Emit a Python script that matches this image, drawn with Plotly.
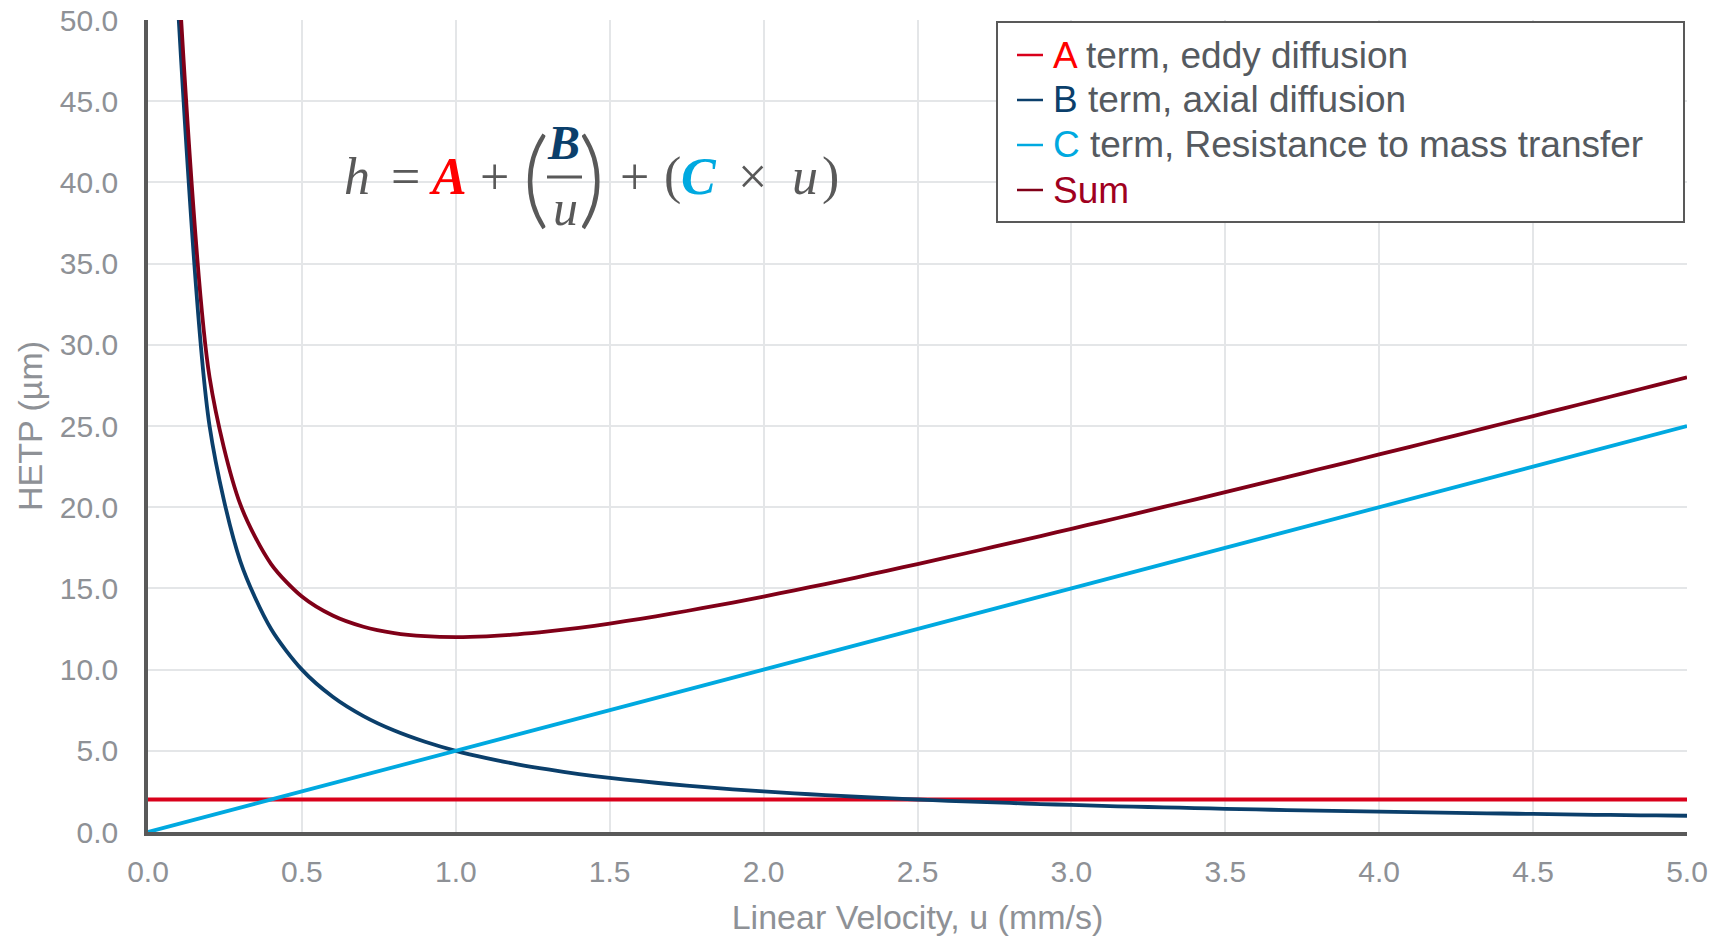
import plotly.graph_objects as go

# linear velocity u (mm/s) and read-off HETP values (µm)
u_curve = [0.1, 0.2, 0.3, 0.4, 0.5, 0.6, 0.7, 0.8, 0.9, 1.0,
           1.1, 1.2, 1.3, 1.4, 1.5, 1.6, 1.7, 1.8, 1.9, 2.0,
           2.1, 2.2, 2.3, 2.4, 2.5, 2.6, 2.7, 2.8, 2.9, 3.0,
           3.1, 3.2, 3.3, 3.4, 3.5, 3.6, 3.7, 3.8, 3.9, 4.0,
           4.1, 4.2, 4.3, 4.4, 4.5, 4.6, 4.7, 4.8, 4.9, 5.0]
b_term = [50.00, 25.00, 16.67, 12.50, 10.00, 8.33, 7.14, 6.25, 5.56, 5.00,
          4.55, 4.17, 3.85, 3.57, 3.33, 3.13, 2.94, 2.78, 2.63, 2.50,
          2.38, 2.27, 2.17, 2.08, 2.00, 1.92, 1.85, 1.79, 1.72, 1.67,
          1.61, 1.56, 1.52, 1.47, 1.43, 1.39, 1.35, 1.32, 1.28, 1.25,
          1.22, 1.19, 1.16, 1.14, 1.11, 1.09, 1.06, 1.04, 1.02, 1.00]
sum_term = [52.50, 28.00, 20.17, 16.50, 14.50, 13.33, 12.64, 12.25, 12.06, 12.00,
            12.05, 12.17, 12.35, 12.57, 12.83, 13.13, 13.44, 13.78, 14.13, 14.50,
            14.88, 15.27, 15.67, 16.08, 16.50, 16.92, 17.35, 17.79, 18.22, 18.67,
            19.11, 19.56, 20.02, 20.47, 20.93, 21.39, 21.85, 22.32, 22.78, 23.25,
            23.72, 24.19, 24.66, 25.14, 25.61, 26.09, 26.56, 27.04, 27.52, 28.00]
u_line = [0.0, 5.0]
a_term = [2.0, 2.0]
c_term = [0.0, 25.0]

x_ticks = [0.0, 0.5, 1.0, 1.5, 2.0, 2.5, 3.0, 3.5, 4.0, 4.5, 5.0]
y_ticks = [0, 5, 10, 15, 20, 25, 30, 35, 40, 45, 50]

# legend: (coloured letter, rest of label)
legend_items = [("A", " term, eddy diffusion"),
                ("B", " term, axial diffusion"),
                ("C", " term, Resistance to mass transfer"),
                ("Sum", "")]

GREY = "#595959"
LABEL = "#8E9196"
RED = "#D9001B"
NAVY = "#0B3F6B"
CYAN = "#00A9E0"
WINE = "#800018"
line_cols = [RED, NAVY, CYAN, WINE]
text_cols = ["#FF0000", NAVY, CYAN, "#A0001E"]

W, H = 1719, 936
L, R, T, B = 148, 32, 20, 104


def px(x):
    return (x - L) / (W - L - R)


def py(y):
    return (H - B - y) / (H - T - B)


fig = go.Figure()
fig.add_trace(go.Scatter(x=u_line, y=a_term, mode="lines", line=dict(color=RED, width=3.8),
                         name="A term, eddy diffusion"))
fig.add_trace(go.Scatter(x=u_curve, y=b_term, mode="lines",
                         line=dict(color=NAVY, width=3.8, shape="spline", smoothing=0.8),
                         name="B term, axial diffusion"))
fig.add_trace(go.Scatter(x=u_line, y=c_term, mode="lines", line=dict(color=CYAN, width=3.8),
                         name="C term, Resistance to mass transfer"))
fig.add_trace(go.Scatter(x=u_curve, y=sum_term, mode="lines",
                         line=dict(color=WINE, width=3.8, shape="spline", smoothing=0.8),
                         name="Sum"))

# white box behind the equation
fig.add_shape(type="rect", xref="paper", yref="paper", layer="between",
              x0=px(335), x1=px(847), y0=py(228), y1=py(115),
              fillcolor="white", line=dict(width=0))

eq_font = "Liberation Serif"
pieces = [
    ("<i>h</i>", 357, 176, 52, GREY, eq_font),
    ("=", 405, 176, 52, GREY, eq_font),
    ("<b><i>A</i></b>", 448, 176, 52, "#FF0000", eq_font),
    ("+", 494, 176, 52, GREY, eq_font),
    ("(", 535, 174, 106, GREY, "Lato"),
    ("<b><i>B</i></b>", 563, 142, 48, NAVY, eq_font),
    ("<i>u</i>", 565, 208, 50, GREY, eq_font),
    (")", 591, 174, 106, GREY, "Lato"),
    ("+", 634, 176, 52, GREY, eq_font),
    ("(", 672, 176, 52, GREY, eq_font),
    ("<b><i>C</i></b>", 699, 176, 52, CYAN, eq_font),
    ("×", 752, 176, 52, GREY, eq_font),
    ("<i>u</i>", 805, 176, 52, GREY, eq_font),
    (")", 830, 176, 52, GREY, eq_font),
]
for txt, x, y, size, col, fam in pieces:
    fig.add_annotation(text=txt, xref="paper", yref="paper", x=px(x), y=py(y),
                       xanchor="center", yanchor="middle", showarrow=False,
                       font=dict(family=fam, size=size, color=col,
                                 weight=300 if fam == "Lato" else "normal"))
fig.add_shape(type="line", xref="paper", yref="paper", x0=px(547), x1=px(582),
              y0=py(177), y1=py(177), line=dict(color=GREY, width=3))

# legend box drawn by hand to match the tight row spacing
fig.add_shape(type="rect", xref="paper", yref="paper", layer="above",
              x0=px(997), x1=px(1684), y0=py(222), y1=py(22),
              fillcolor="white", line=dict(color=GREY, width=2))
for i, (letter, rest) in enumerate(legend_items):
    yc = 55 + 45 * i
    fig.add_shape(type="line", xref="paper", yref="paper", layer="above",
                  x0=px(1017), x1=px(1043), y0=py(yc), y1=py(yc),
                  line=dict(color=line_cols[i], width=2.5))
    fig.add_annotation(text=f'<span style="color:{text_cols[i]}">{letter}</span>{rest}',
                       xref="paper", yref="paper", x=px(1051), y=py(yc),
                       xanchor="left", yanchor="middle", showarrow=False,
                       font=dict(family="Liberation Sans", size=37, color="#555A60"))

fig.update_layout(
    width=W, height=H,
    paper_bgcolor="white", plot_bgcolor="white",
    margin=dict(l=L, r=R, t=T, b=B, autoexpand=False),
    font=dict(family="Liberation Sans", color=LABEL),
    showlegend=False,
)
fig.update_xaxes(range=[0, 5], tickvals=x_ticks, tickformat=".1f",
                 showgrid=True, gridcolor="#E4E6E8", gridwidth=2,
                 showline=True, linecolor=GREY, linewidth=3.5, zeroline=False,
                 tickfont=dict(size=30, color=LABEL), ticklabelstandoff=10,
                 title=dict(text="Linear Velocity, u (mm/s)", standoff=24,
                            font=dict(size=34, color=LABEL)))
fig.update_yaxes(range=[0, 50], tickvals=y_ticks, tickformat=".1f",
                 showgrid=True, gridcolor="#E4E6E8", gridwidth=2,
                 showline=True, linecolor=GREY, linewidth=3.5, zeroline=False,
                 tickfont=dict(size=30, color=LABEL), ticklabelstandoff=20,
                 title=dict(text="HETP (µm)", standoff=8,
                            font=dict(size=34, color=LABEL)))

fig.write_html("out.html", config={"displayModeBar": False},
               post_script="document.body.style.margin='0';")
